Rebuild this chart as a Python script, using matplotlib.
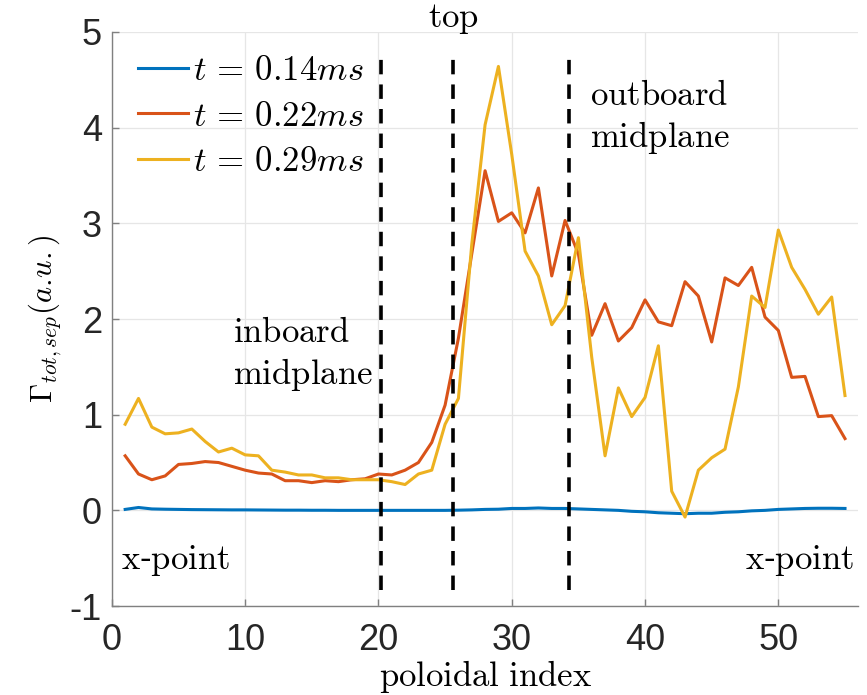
import numpy as np
import matplotlib
matplotlib.use("Agg")
import matplotlib.pyplot as plt

plt.rcParams['mathtext.fontset'] = 'cm'
plt.rcParams['font.family'] = ['Liberation Sans', 'DejaVu Sans']
plt.rcParams['axes.unicode_minus'] = False

idx = np.arange(1, 56)

gamma_014 = [0.01, 0.03, 0.015, 0.012, 0.01, 0.008, 0.007, 0.006, 0.005, 0.005,
             0.004, 0.003, 0.002, 0.002, 0.001, 0.001, 0.0, 0.0, 0.0, 0.0,
             0.0, 0.0, 0.0, 0.0, 0.0, 0.002, 0.005, 0.01, 0.012, 0.02,
             0.02, 0.025, 0.02, 0.02, 0.015, 0.01, 0.005, 0.0, -0.01, -0.015,
             -0.025, -0.03, -0.035, -0.03, -0.03, -0.02, -0.015, -0.005, 0.0, 0.01,
             0.015, 0.02, 0.022, 0.022, 0.02]

gamma_022 = [0.57, 0.38, 0.32, 0.36, 0.48, 0.49, 0.51, 0.50, 0.46, 0.42,
             0.39, 0.38, 0.31, 0.31, 0.29, 0.31, 0.30, 0.32, 0.33, 0.38,
             0.37, 0.42, 0.50, 0.71, 1.10, 1.80, 2.68, 3.55, 3.02, 3.11,
             2.90, 3.37, 2.45, 3.03, 2.68, 1.83, 2.16, 1.77, 1.91, 2.20,
             1.97, 1.93, 2.39, 2.24, 1.76, 2.43, 2.35, 2.54, 2.02, 1.88,
             1.39, 1.40, 0.98, 0.99, 0.75]

gamma_029 = [0.90, 1.17, 0.87, 0.80, 0.81, 0.85, 0.72, 0.61, 0.65, 0.58,
             0.57, 0.42, 0.40, 0.37, 0.37, 0.34, 0.34, 0.32, 0.32, 0.32,
             0.30, 0.27, 0.38, 0.42, 0.90, 1.17, 2.78, 4.03, 4.64, 3.72,
             2.71, 2.45, 1.94, 2.14, 2.85, 1.60, 0.57, 1.28, 0.98, 1.18,
             1.72, 0.20, -0.07, 0.42, 0.55, 0.64, 1.29, 2.24, 2.12, 2.93,
             2.54, 2.31, 2.05, 2.23, 1.20]

labels = [r'$t\,=\,0.14ms$', r'$t\,=\,0.22ms$', r'$t\,=\,0.29ms$']
colors = ['#0072BD', '#D95319', '#EDB120']

# separatrix region boundaries
region_bounds = [20.2, 25.6, 34.3]

fig = plt.figure(figsize=(8.67, 6.95), dpi=100)
ax = fig.add_axes([0.129, 0.128, 0.861, 0.826])

for y, lab, c in zip([gamma_014, gamma_022, gamma_029], labels, colors):
    ax.plot(idx, y, color=c, lw=2.2, label=lab)

for xb in region_bounds:
    ax.plot([xb, xb], [-0.83, 4.79], color='black', lw=2.6,
            linestyle=(0, (4, 2.8)))

ax.set_xlim(0, 56)
ax.set_ylim(-1, 5)
ax.set_xticks([0, 10, 20, 30, 40, 50])
ax.set_yticks([-1, 0, 1, 2, 3, 4, 5])
ax.grid(True, color='#e6e6e6', lw=0.9)
ax.set_axisbelow(True)
for side in ['top', 'right']:
    ax.spines[side].set_visible(False)
for side in ['left', 'bottom']:
    ax.spines[side].set_color('#808080')
    ax.spines[side].set_linewidth(1.0)
ax.tick_params(labelsize=26, colors='#262626', direction='in', length=5,
               width=1.0)
ax.tick_params(axis='x', pad=12)
ax.tick_params(axis='y', pad=7)
ax.tick_params(axis='both', color='#808080')

ax.set_xlabel(r'$\mathrm{poloidal\ index}$', fontsize=25, labelpad=0)
ax.set_ylabel(r'$\Gamma_{tot,sep}(a.\!u.)$', fontsize=22, labelpad=4)

leg = ax.legend(loc='upper left', bbox_to_anchor=(0.016, 0.985), frameon=False,
                fontsize=25, handlelength=1.45, handletextpad=0.15,
                labelspacing=0.35, borderaxespad=0)

tkw = dict(fontsize=25, color='black')
ax.text(25.6, 5.05, r'$\mathrm{top}$', ha='center', va='baseline', **tkw)
ax.text(9.1, 1.23, r'$\mathrm{inboard}$' + '\n' + r'$\mathrm{midplane}$',
        ha='left', va='bottom', linespacing=1.25, **tkw)
ax.text(35.9, 3.7, r'$\mathrm{outboard}$' + '\n' + r'$\mathrm{midplane}$',
        ha='left', va='bottom', linespacing=1.25, **tkw)
ax.text(0.7, -0.52, r'$\mathrm{x}$-$\mathrm{point}$', ha='left',
        va='center', **tkw)
ax.text(55.7, -0.52, r'$\mathrm{x}$-$\mathrm{point}$', ha='right',
        va='center', **tkw)

fig.savefig('out.png', dpi=100)
